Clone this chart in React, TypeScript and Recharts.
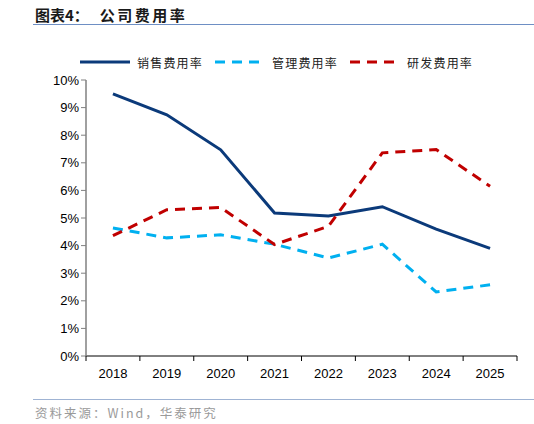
import React from 'react';
import { LineChart, Line, XAxis, YAxis } from 'recharts';

const YEARS = ['2018', '2019', '2020', '2021', '2022', '2023', '2024', '2025'];
const SALES = [9.5, 8.74, 7.47, 5.18, 5.07, 5.41, 4.6, 3.9];
const ADMIN = [4.64, 4.28, 4.39, 4.05, 3.55, 4.05, 2.32, 2.58];
const RND = [4.36, 5.3, 5.38, 4.04, 4.7, 7.36, 7.48, 6.15];
const Y_TICKS = [0, 1, 2, 3, 4, 5, 6, 7, 8, 9, 10];

const SERIES = [
    { key: 'sales', name: '销售费用率', color: '#0B3A7A', dash: undefined },
    { key: 'admin', name: '管理费用率', color: '#00B0F0', dash: '10 7' },
    { key: 'rnd', name: '研发费用率', color: '#C00000', dash: '10 7' },
];

const data = YEARS.map((year, i) => ({ year, sales: SALES[i], admin: ADMIN[i], rnd: RND[i] }));

const CHART_W = 534;
const PLOT_LEFT = 86;
const PLOT_RIGHT = 517;
const BAND = (PLOT_RIGHT - PLOT_LEFT) / YEARS.length;

const FONT = '"Liberation Sans", Arial, sans-serif';
const CJK = '"Noto Sans CJK SC", sans-serif';

const YearTick = (props: any) => {
    const { x, y, payload, index } = props;
    const left = x - BAND / 2;
    const right = x + BAND / 2;
    return (
        <g>
            <line x1={left} y1={y - 8} x2={left} y2={y - 3} stroke="#000" strokeWidth={1} />
            {index === YEARS.length - 1 && (
                <line x1={right} y1={y - 8} x2={right} y2={y - 3} stroke="#000" strokeWidth={1} />
            )}
            <text x={x} y={y + 14} textAnchor="middle" fontSize={13} fontFamily={FONT} fill="#000">
                {payload.value}
            </text>
        </g>
    );
};

const LegendRow = () => (
    <div style={{ position: 'absolute', top: 53, left: 80, display: 'flex', alignItems: 'center', fontFamily: CJK, fontSize: 12, color: '#222' }}>
        {SERIES.map((s, i) => (
            <div key={s.key} style={{ display: 'flex', alignItems: 'center', marginRight: i === 2 ? 0 : 12 }}>
                <svg width={50} height={18}>
                    <line x1={0} y1={9} x2={50} y2={9} stroke={s.color} strokeWidth={3} strokeDasharray={s.dash} />
                </svg>
                <span style={{ marginLeft: 7, letterSpacing: 1.2 }}>{s.name}</span>
            </div>
        ))}
    </div>
);

export default function App() {
    return (
        <div style={{ position: 'absolute', top: 0, left: 0, width: CHART_W, height: 424, background: '#fff' }}>
            <div style={{ position: 'absolute', top: 4, left: 35, fontFamily: CJK, fontWeight: 700, fontSize: 15, color: '#1a1a1a', whiteSpace: 'nowrap' }}>
                <span>图表4：</span>
                <span style={{ marginLeft: 11, letterSpacing: 2.5 }}>公司费用率</span>
            </div>
            <div style={{ position: 'absolute', top: 24, left: 33, width: CHART_W - 33, height: 1, background: '#6E8FC4' }} />
            <LegendRow />
            <div style={{ position: 'absolute', top: 0, left: 0 }}>
                <LineChart width={CHART_W} height={424} data={data} margin={{ top: 80, right: CHART_W - PLOT_RIGHT, left: 0, bottom: 0 }}>
                    <XAxis
                        dataKey="year"
                        height={68}
                        padding={{ left: BAND / 2, right: BAND / 2 }}
                        axisLine={{ stroke: '#000' }}
                        tickLine={false}
                        tick={<YearTick />}
                        interval={0}
                    />
                    <YAxis
                        width={PLOT_LEFT}
                        domain={[0, 10]}
                        ticks={Y_TICKS}
                        tickFormatter={(v: number) => `${v}%`}
                        axisLine={{ stroke: '#808080', strokeWidth: 1.5 }}
                        tickLine={{ stroke: '#808080' }}
                        tickSize={5}
                        tick={{ fontSize: 13, fontFamily: FONT, fill: '#000' }}
                    />
                    {SERIES.map((s) => (
                        <Line
                            key={s.key}
                            dataKey={s.key}
                            name={s.name}
                            stroke={s.color}
                            strokeWidth={3}
                            strokeDasharray={s.dash}
                            dot={false}
                            type="linear"
                            isAnimationActive={false}
                        />
                    ))}
                </LineChart>
            </div>
            <div style={{ position: 'absolute', top: 399, left: 33, width: CHART_W - 33, height: 1, background: '#9FB3D3' }} />
            <div style={{ position: 'absolute', top: 403, left: 35, fontFamily: CJK, fontSize: 12.5, letterSpacing: 2, color: '#9a9a9a' }}>
                资料来源：Wind，华泰研究
            </div>
        </div>
    );
}
